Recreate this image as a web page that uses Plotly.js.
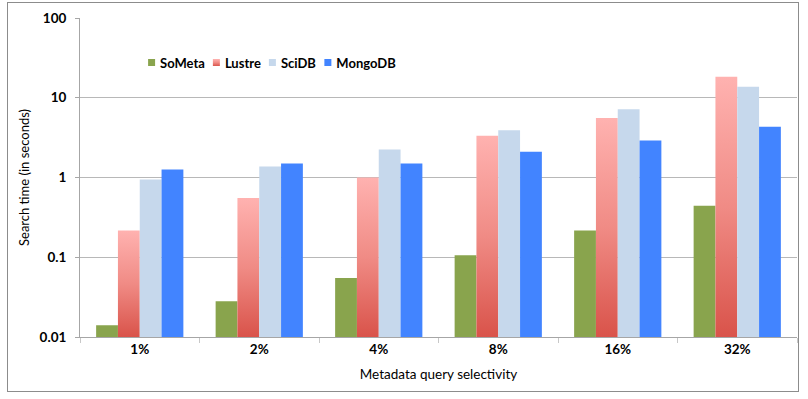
<!DOCTYPE html>
<html>
<head>
<meta charset="utf-8">
<script src="https://cdn.plot.ly/plotly-3.0.1.min.js"></script>
<style>
  body { margin: 0; background: #fff; }
  #chart { width: 808px; height: 399px; position: absolute; left: 0; top: 0; }
  #frame { position: absolute; left: 7px; top: 2px; width: 790px; height: 388px; border: 1px solid #8c8c8c; pointer-events: none; }
</style>
</head>
<body>
<svg width="0" height="0" style="position:absolute">
  <defs id="gradDefs">
    <linearGradient id="redgrad" x1="0" y1="0" x2="0" y2="1" gradientUnits="objectBoundingBox">
      <stop offset="0" stop-color="#ffb2b0"/>
      <stop offset="0.5" stop-color="#f08b85"/>
      <stop offset="1" stop-color="#d9534a"/>
    </linearGradient>
  </defs>
</svg>
<div id="chart"></div>
<div id="frame"></div>
<script>
const categories = ['1%', '2%', '4%', '8%', '16%', '32%'];
const seriesNames = ['SoMeta', 'Lustre', 'SciDB', 'MongoDB'];
const someta  = [0.014, 0.028, 0.055, 0.106, 0.217, 0.443];
const lustre  = [0.217, 0.552, 1.0, 3.35, 5.57, 18.3];
const scidb   = [0.944, 1.37, 2.24, 3.9, 7.2, 13.7];
const mongodb = [1.26, 1.50, 1.50, 2.1, 2.9, 4.34];
const yTickVals = [0.01, 0.1, 1, 10, 100];
const yTickText = ['0.01', '0.1', '1', '10', '100'];

const colors = ['#89a44d', '#ee7f79', '#c6d8ec', '#4284ff'];
const values = [someta, lustre, scidb, mongodb];

const traces = seriesNames.map((name, i) => ({
  type: 'bar',
  name: name,
  x: categories,
  y: values[i],
  marker: { color: colors[i], line: { width: 0 } },
  hoverinfo: 'x+y+name'
}));

const FONT = 'Lato, "Open Sans", "DejaVu Sans", sans-serif';

const layout = {
  width: 808,
  height: 399,
  margin: { l: 80, r: 11, t: 18, b: 62 },
  paper_bgcolor: '#ffffff',
  plot_bgcolor: '#ffffff',
  font: { family: FONT, color: '#000000' },
  barmode: 'group',
  bargap: 0.27,
  bargroupgap: 0,
  showlegend: true,
  legend: {
    orientation: 'h',
    x: 0.088, y: 0.86,
    xanchor: 'left', yanchor: 'middle',
    font: { family: FONT, size: 13, color: '#000', weight: 'bold' },
    bgcolor: 'rgba(0,0,0,0)',
    traceorder: 'normal'
  },
  xaxis: {
    type: 'category',
    showgrid: false,
    showline: true,
    linecolor: '#a6a6a6',
    linewidth: 1,
    ticks: 'outside',
    tickson: 'boundaries',
    ticklen: 5,
    tickcolor: '#c8c8c8',
    tickfont: { family: FONT, size: 13.5, color: '#000', weight: 'bold' },
    title: { text: 'Metadata query selectivity', font: { family: FONT, size: 13.5, color: '#000' }, standoff: 13 },
    fixedrange: true
  },
  yaxis: {
    type: 'log',
    range: [-2, 2],
    tickvals: yTickVals,
    ticktext: yTickText,
    showgrid: true,
    gridcolor: '#b8b8b8',
    gridwidth: 1,
    zeroline: false,
    showline: true,
    linecolor: '#a6a6a6',
    linewidth: 1,
    ticks: 'outside',
    ticklen: 4,
    tickcolor: '#a6a6a6',
    ticklabelstandoff: 6,
    tickfont: { family: FONT, size: 13.5, color: '#000', weight: 'bold' },
    title: { text: 'Search time (in seconds)', font: { family: FONT, size: 13, color: '#000' }, standoff: 7 },
    fixedrange: true
  }
};

const SVGNS = 'http://www.w3.org/2000/svg';
function makeGrad(id, y1, y2) {
  const defs = document.getElementById('gradDefs');
  const lg = document.createElementNS(SVGNS, 'linearGradient');
  lg.setAttribute('id', id);
  lg.setAttribute('gradientUnits', 'userSpaceOnUse');
  lg.setAttribute('x1', '0'); lg.setAttribute('x2', '0');
  lg.setAttribute('y1', String(y1)); lg.setAttribute('y2', String(y2));
  [['0', '#ffb2b0'], ['0.5', '#f08b85'], ['1', '#d9534a']].forEach(([o, c]) => {
    const s = document.createElementNS(SVGNS, 'stop');
    s.setAttribute('offset', o); s.setAttribute('stop-color', c);
    lg.appendChild(s);
  });
  defs.appendChild(lg);
}

function decorate(gd) {
  const plotH = gd._fullLayout._size.h;
  const barTraces = gd.querySelectorAll('.barlayer .trace.bars');
  if (barTraces[1]) {
    barTraces[1].querySelectorAll('path').forEach((p, k) => {
      const bb = p.getBBox();
      const id = 'redgrad' + k;
      makeGrad(id, bb.y, plotH);
      p.style.fill = 'url(#' + id + ')';
    });
  }
  // compact legend: small squares close to labels
  const items = gd.querySelectorAll('.legend g.traces');
  const sq = 7, gapText = 5, gapNext = 8;
  const legendRect = gd.querySelector('.legend').getBoundingClientRect();
  let cursor = null;
  items.forEach((g, i) => {
    const txt = g.querySelector('text.legendtext');
    const path = g.querySelector('.legendpoints path');
    if (!txt || !path) return;
    const tr = g.getAttribute('transform') || '';
    const m = tr.match(/translate\(([-\d.]+)[ ,]*([-\d.]+)?\)/);
    let tx = m ? parseFloat(m[1]) : 0, ty = m && m[2] ? parseFloat(m[2]) : 0;
    let tRect = txt.getBoundingClientRect();
    if (cursor === null) cursor = legendRect.left + 5;
    const desiredTextLeft = cursor + sq + gapText;
    tx += desiredTextLeft - tRect.left;
    g.setAttribute('transform', 'translate(' + tx + ',' + ty + ')');
    tRect = txt.getBoundingClientRect();
    path.removeAttribute('transform');
    const pRect = path.getBoundingClientRect();
    const pcx = pRect.left + pRect.width / 2;
    const wantCx = tRect.left - gapText - sq / 2;
    const s = sq / Math.max(pRect.width, 1);
    path.setAttribute('transform', 'translate(' + (wantCx - pcx) + ',0) scale(' + s + ')');
    path.style.strokeWidth = '0';
    if (i === 1) path.style.fill = 'url(#redgrad)';
    cursor = tRect.right + gapNext;
  });
}

Plotly.newPlot('chart', traces, layout, { displayModeBar: false, staticPlot: true }).then(gd => {
  decorate(gd);
});
</script>
</body>
</html>
